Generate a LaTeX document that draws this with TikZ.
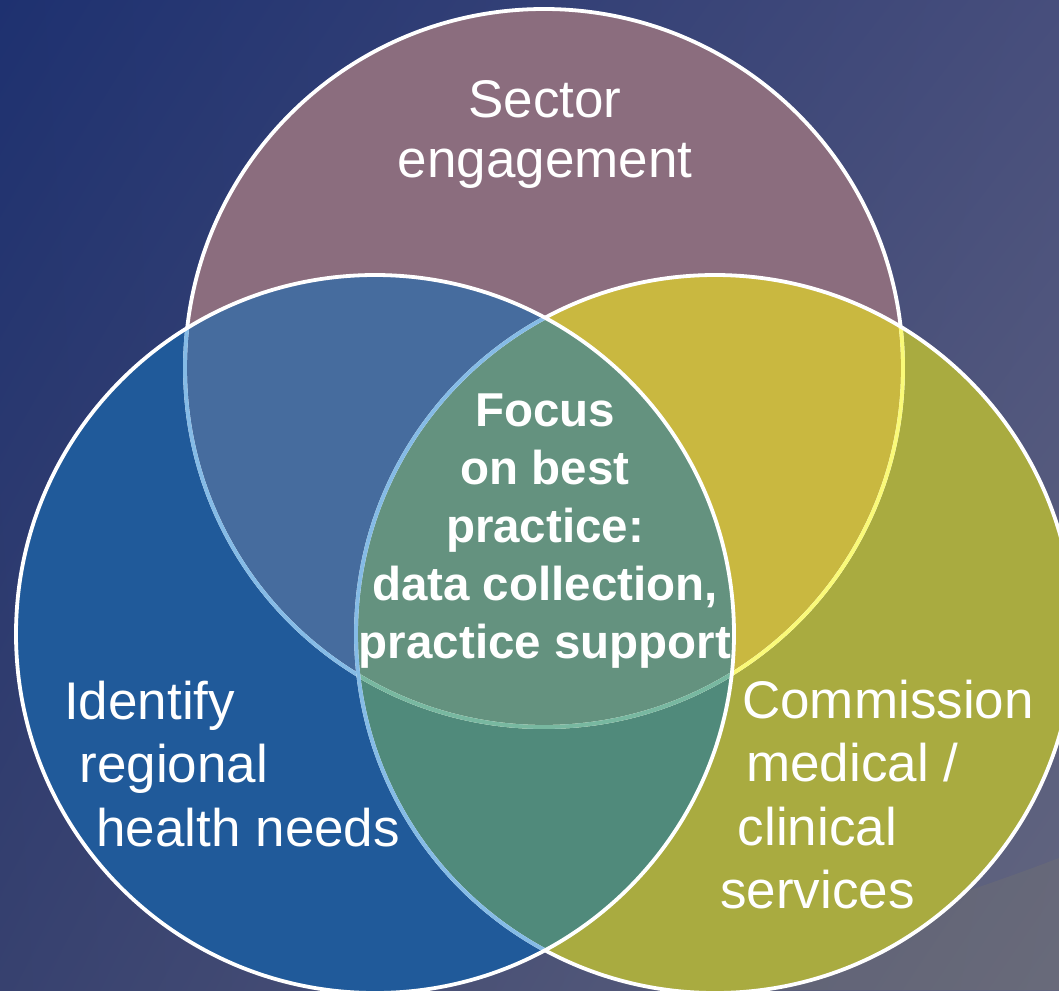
\documentclass[tikz,border=0pt]{standalone}
\usepackage{fontspec}
\setmainfont{Liberation Sans}
\usetikzlibrary{shadings}
\definecolor{bgUL}{HTML}{1E3170}
\definecolor{bgUR}{HTML}{474E7C}
\definecolor{bgLL}{HTML}{37416F}
\definecolor{bgLR}{HTML}{63667F}
\definecolor{streakgray}{HTML}{78766F}
\definecolor{cMauve}{HTML}{8B6D7E}
\definecolor{cBlue}{HTML}{205A9A}
\definecolor{cOlive}{HTML}{A9AB40}
\definecolor{cTopLeft}{HTML}{466C9E}
\definecolor{cTopRight}{HTML}{C9B840}
\definecolor{cLeftRight}{HTML}{508A7B}
\definecolor{cAll}{HTML}{64927F}
\definecolor{edgeBlue}{HTML}{85BBE6}
\definecolor{edgeYellow}{HTML}{FAFA78}
\definecolor{edgeTeal}{HTML}{78B8A0}
\begin{document}
\begin{tikzpicture}[x=1pt,y=-1pt,
  rim/.style={line width=3.8pt},
  plainlab/.style={text=white, inner sep=0pt, font=\fontsize{53}{63.5}\selectfont},
  boldlab/.style={text=white, inner sep=0pt, align=center, font=\fontsize{47.5}{57.8}\selectfont\bfseries}]
\useasboundingbox (0,0) rectangle (1059,990);
\clip (0,0) rectangle (1059,990);
% background
\shade[upper left=bgUL, upper right=bgUR, lower left=bgLL, lower right=bgLR] (0,0) rectangle (1059,990);
\fill[streakgray, fill opacity=0.3] (660,990) .. controls (800,945) and (950,900) .. (1059,858) -- (1059,990) -- cycle;
% circles
\coordinate (T) at (544,368);
\coordinate (L) at (375,634);
\coordinate (R) at (715,634);
\def\Ctop{(T) circle[radius=359]}
\def\Cleft{(L) circle[radius=359]}
\def\Cright{(R) circle[radius=359]}
\fill[cMauve] \Ctop;
\fill[cOlive] \Cright;
\fill[cBlue] \Cleft;
\begin{scope}
  \clip \Ctop;
  \fill[cTopRight] \Cright;
  \fill[cTopLeft] \Cleft;
\end{scope}
\begin{scope}
  \clip \Cleft;
  \fill[cLeftRight] \Cright;
  \clip \Ctop;
  \fill[cAll] \Cright;
\end{scope}
% outlines
\draw[rim, white] \Ctop;
\begin{scope}
  \clip \Cright;
  \draw[rim, edgeYellow] \Ctop;
\end{scope}
\begin{scope}
  \clip \Cleft;
  \draw[rim, edgeBlue] \Ctop;
  \clip \Cright;
  \draw[rim, edgeTeal] \Ctop;
\end{scope}
\draw[rim, white] \Cright;
\begin{scope}
  \clip \Cleft;
  \draw[rim, edgeBlue] \Cright;
\end{scope}
\draw[rim, white] \Cleft;
% labels (base anchor = baseline of the last line)
\node[plainlab, align=center, font=\fontsize{53}{60}\selectfont, anchor=base] (sector) at (545,177) {Sector\\engagement};
\node[boldlab, anchor=base] (focus) at (545,658) {Focus\\on best\\practice:\\data collection,\\practice support};
\node[plainlab, align=left, anchor=base west] (identify) at (64,846) {Identify\\\hspace*{15.3pt}regional\\\hspace*{32.3pt}health needs};
\node[plainlab, align=left, anchor=base west] (commission) at (720,908.5) {\hspace*{22pt}Commission\\\hspace*{26pt}medical /\\\hspace*{17.6pt}clinical\\services};
\end{tikzpicture}
\end{document}
